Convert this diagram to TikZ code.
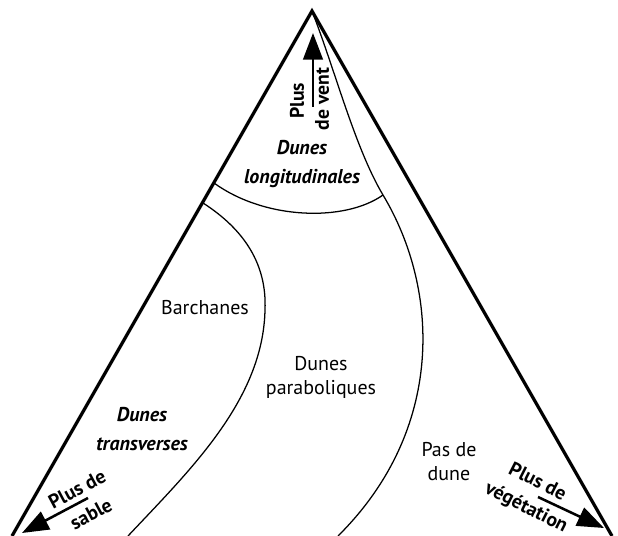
\documentclass[tikz,border=0pt]{standalone}
\usepackage{fontspec}
\setmainfont{PT Sans}
\usetikzlibrary{arrows.meta}

\begin{document}
\begin{tikzpicture}[x=0.025cm, y=-0.025cm,
    bord/.style={line width=2.3pt},
    courbe/.style={line width=0.9pt},
    fleche/.style={line width=1.8pt, -{Triangle[length=19pt, width=14pt]}},
    zone/.style={font=\fontsize{14.2}{20}\selectfont\bfseries\itshape, align=center, inner sep=0pt},
    nom/.style={font=\fontsize{14.2}{17}\selectfont, align=center, inner sep=0pt},
    sens/.style={font=\fontsize{14}{14}\selectfont\bfseries, inner sep=0pt}]
    \useasboundingbox (0,0) rectangle (618,536);
    % sommets du triangle
    \coordinate (A) at (312,11);
    \coordinate (L) at (12,536);
    \coordinate (R) at (612,536);
    \draw[bord, line join=miter] (L) -- (A) -- (R);
    % limites entre les types de dunes
    \coordinate (longG) at (214,183);
    \coordinate (longD) at (383,195);
    \coordinate (barH) at (203,203);
    \coordinate (barM) at (265,310);
    \coordinate (barB) at (128,536);
    \coordinate (parB) at (338,536);
    \draw[courbe] (A) .. controls (335,70) and (355,148) .. (longD)
        .. controls (440,290) and (445,430) .. (parB);
    \draw[courbe] (longG) .. controls (265,220) and (345,222) .. (longD);
    \draw[courbe] (barH) .. controls (245,230) and (267,265) .. (barM)
        .. controls (263,400) and (190,470) .. (barB);
    % noms des zones
    \node[zone] (longi) at (302,164) {Dunes\\longitudinales};
    \node[zone] (trans) at (142,429) {Dunes\\transverses};
    \node[nom] (barch) at (205,308) {Barchanes};
    \node[nom] (parab) at (321,377) {Dunes\\paraboliques};
    \node[nom] (pas) at (449,462) {Pas de\\dune};
    % fleches des facteurs
    \coordinate (ventS) at (313,107);
    \coordinate (ventT) at (313,33);
    \draw[fleche] (ventS) -- (ventT);
    \node[sens, rotate=90] (plusV) at (297,101) {Plus};
    \node[sens, rotate=90] (deV) at (322,99) {de vent};
    \coordinate (sableS) at (88,498);
    \coordinate (sableT) at (22,533);
    \draw[fleche] (sableS) -- (sableT);
    \node[sens, rotate=28] (plusS) at (77,489) {Plus de};
    \node[sens, rotate=28] (sable) at (91,514) {sable};
    \coordinate (vegS) at (538,497);
    \coordinate (vegT) at (604,528);
    \draw[fleche] (vegS) -- (vegT);
    \node[sens, rotate=-27] (plusG) at (538,481) {Plus de};
    \node[sens, rotate=-27] (veg) at (526,508) {végétation};
\end{tikzpicture}
\end{document}
